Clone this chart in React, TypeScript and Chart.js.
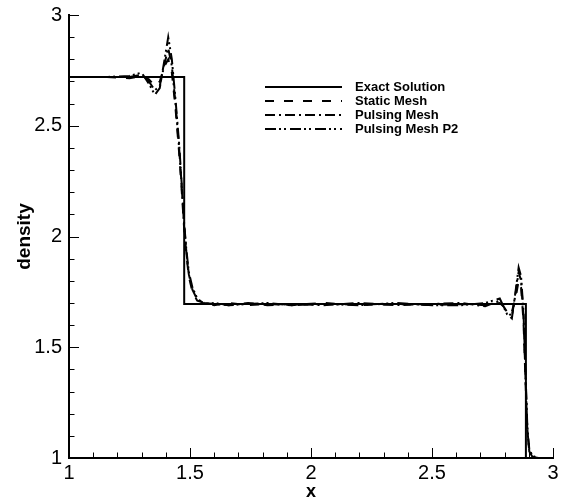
import React, { useEffect, useRef } from "react";
import { Chart, registerables } from "chart.js";

Chart.register(...registerables);

// Exact solution (piecewise constant with two jumps)
const exactX = [1.0, 1.476, 1.476, 2.888, 2.888, 3.0];
const exactY = [2.72, 2.72, 1.695, 1.695, 1.0, 1.0];

// Shared x grid for the numerical solutions
const numX = [
  1.0, 1.15, 1.25, 1.3, 1.33, 1.355, 1.375, 1.395, 1.41, 1.425,
  1.44, 1.455, 1.465, 1.475, 1.485, 1.495, 1.51, 1.53, 1.56, 1.6,
  1.66, 1.74, 1.82, 1.92, 2.05, 2.2, 2.35, 2.5, 2.62, 2.72,
  2.78, 2.81, 2.83, 2.845, 2.858, 2.868, 2.878, 2.886, 2.894, 2.902,
  2.915, 2.94, 3.0,
];

const staticY = [
  2.72, 2.72, 2.715, 2.725, 2.71, 2.68, 2.7, 2.77, 2.8, 2.74,
  2.58, 2.38, 2.22, 2.05, 1.92, 1.82, 1.75, 1.71, 1.7, 1.69,
  1.7, 1.69, 1.695, 1.69, 1.7, 1.69, 1.695, 1.69, 1.695, 1.69,
  1.7, 1.67, 1.66, 1.72, 1.8, 1.77, 1.62, 1.36, 1.12, 1.03,
  1.005, 1.0, 1.0,
];

const pulsingY = [
  2.72, 2.72, 2.72, 2.73, 2.7, 2.66, 2.68, 2.78, 2.85, 2.77,
  2.6, 2.4, 2.24, 2.06, 1.93, 1.83, 1.76, 1.715, 1.7, 1.695,
  1.69, 1.7, 1.69, 1.695, 1.69, 1.7, 1.69, 1.695, 1.7, 1.685,
  1.71, 1.66, 1.64, 1.74, 1.84, 1.8, 1.64, 1.38, 1.13, 1.03,
  1.005, 1.0, 1.0,
];

const pulsingP2Y = [
  2.72, 2.72, 2.725, 2.74, 2.69, 2.64, 2.67, 2.8, 2.9, 2.8,
  2.62, 2.42, 2.25, 2.07, 1.94, 1.84, 1.77, 1.72, 1.695, 1.7,
  1.69, 1.695, 1.7, 1.69, 1.695, 1.69, 1.7, 1.69, 1.69, 1.7,
  1.72, 1.65, 1.63, 1.75, 1.86, 1.82, 1.66, 1.4, 1.14, 1.04,
  1.01, 1.0, 1.0,
];

const seriesNames = ["Exact Solution", "Static Mesh", "Pulsing Mesh", "Pulsing Mesh P2"];
const tickValues = [1, 1.5, 2, 2.5, 3];
const tickLabels = ["1", "1.5", "2", "2.5", "3"];

const FONT = "'Liberation Sans', Arial, Helvetica, sans-serif";

const dashes: number[][] = [[], [9, 10], [10, 4, 2, 4], [11, 3, 2, 3, 2, 4]];

function pts(xs: number[], ys: number[]) {
  return xs.map((x, i) => ({ x, y: ys[i] }));
}

function fmt(v: any) {
  const idx = tickValues.findIndex((t) => Math.abs(t - Number(v)) < 1e-9);
  return idx >= 0 ? tickLabels[idx] : "";
}

const inwardTicks = {
  id: "inwardTicks",
  afterDraw(chart: any) {
    const { ctx, chartArea, scales } = chart;
    const xs = scales.x;
    const ys = scales.y;
    ctx.save();
    ctx.strokeStyle = "#000";
    ctx.lineWidth = 1;
    const min = tickValues[0];
    const max = tickValues[tickValues.length - 1];
    const n = Math.round((max - min) / 0.1);
    for (let i = 0; i <= n; i++) {
      const v = min + i * 0.1;
      const len = i % 5 === 0 ? 10 : 5.5;
      const py = Math.round(ys.getPixelForValue(v)) + 0.5;
      ctx.beginPath();
      ctx.moveTo(chartArea.left, py);
      ctx.lineTo(chartArea.left + len, py);
      ctx.stroke();
      const px = Math.round(xs.getPixelForValue(v)) + 0.5;
      ctx.beginPath();
      ctx.moveTo(px, chartArea.bottom);
      ctx.lineTo(px, chartArea.bottom - len);
      ctx.stroke();
    }
    ctx.restore();
  },
};

const customLegend = {
  id: "customLegend",
  afterDraw(chart: any) {
    const { ctx } = chart;
    ctx.save();
    const x0 = 265;
    const x1 = 342;
    const tx = 355;
    const rows = [87, 101, 115, 129];
    chart.data.datasets.forEach((ds: any, i: number) => {
      const y = rows[i];
      ctx.beginPath();
      ctx.setLineDash(ds.borderDash || []);
      ctx.lineWidth = 2;
      ctx.strokeStyle = "#000";
      ctx.moveTo(x0, y);
      ctx.lineTo(x1, y);
      ctx.stroke();
      ctx.setLineDash([]);
      ctx.fillStyle = "#000";
      ctx.font = `bold 13px ${FONT}`;
      ctx.textBaseline = "middle";
      ctx.textAlign = "left";
      ctx.fillText(ds.label, tx, y);
    });
    ctx.restore();
  },
};

export default function App() {
  const ref = useRef<HTMLCanvasElement | null>(null);

  useEffect(() => {
    if (!ref.current) return;
    Chart.defaults.font.family = FONT;
    const ys = [exactY, staticY, pulsingY, pulsingP2Y];
    const datasets = seriesNames.map((name, i) => ({
      label: name,
      data: i === 0 ? pts(exactX, exactY) : pts(numX, ys[i]),
      borderColor: "#000",
      backgroundColor: "#000",
      borderWidth: 2,
      borderDash: dashes[i],
      pointRadius: 0,
      fill: false,
      tension: 0,
      clip: 4,
    }));
    const chart = new Chart(ref.current, {
      type: "line",
      data: { datasets },
      options: {
        animation: false,
        responsive: false,
        devicePixelRatio: 1,
        parsing: false as any,
        layout: { padding: { top: 15, right: 8, left: 0, bottom: 0 } },
        plugins: { legend: { display: false }, tooltip: { enabled: false } },
        scales: {
          x: {
            type: "linear",
            min: 1,
            max: 3,
            afterFit: (s: any) => {
              s.height = 43;
              s.paddingRight = 0;
              s.paddingLeft = 0;
            },
            afterBuildTicks: (s: any) => {
              s.ticks = tickValues.map((v) => ({ value: v }));
            },
            grid: { display: false, drawTicks: false },
            border: { display: true, color: "#000", width: 2 },
            ticks: {
              color: "#000",
              padding: 3,
              maxRotation: 0,
              autoSkip: false,
              font: { size: 20, family: FONT },
              callback: (v: any) => fmt(v),
            },
            title: {
              display: true,
              text: "x",
              color: "#000",
              font: { size: 18, weight: "bold", family: FONT, lineHeight: 1 },
              padding: { top: 0, bottom: 0 },
            },
          },
          y: {
            type: "linear",
            min: 1,
            max: 3,
            afterFit: (s: any) => {
              s.width = 69;
              s.paddingTop = 0;
              s.paddingBottom = 0;
            },
            afterBuildTicks: (s: any) => {
              s.ticks = tickValues.map((v) => ({ value: v }));
            },
            grid: { display: false, drawTicks: false },
            border: { display: true, color: "#000", width: 2 },
            ticks: {
              color: "#000",
              padding: 7,
              autoSkip: false,
              font: { size: 20, family: FONT },
              callback: (v: any) => fmt(v),
            },
            title: {
              display: true,
              text: "density",
              color: "#000",
              font: { size: 19, weight: "bold", family: FONT, lineHeight: 1 },
              padding: { top: 15, bottom: 0 },
            },
          },
        },
      },
      plugins: [inwardTicks, customLegend],
    });
    return () => chart.destroy();
  }, []);

  return (
    <div style={{ position: "fixed", left: 0, top: 0, width: 561, height: 501, background: "#fff" }}>
      <canvas ref={ref} width={561} height={501} style={{ display: "block" }} />
    </div>
  );
}
